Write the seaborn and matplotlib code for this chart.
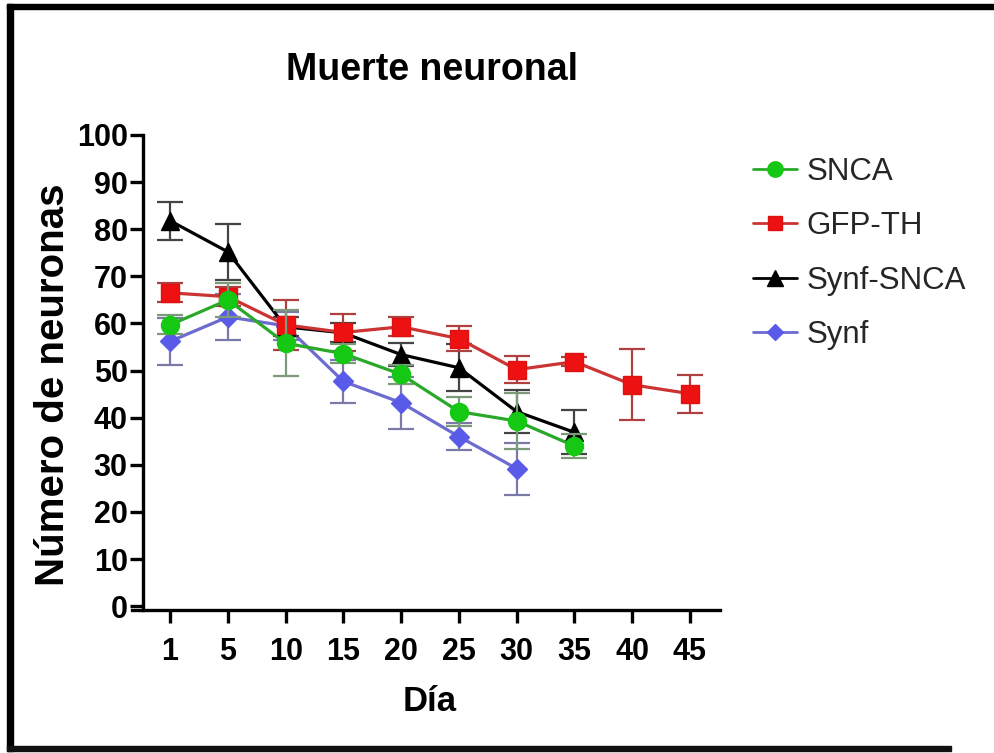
import matplotlib
matplotlib.use("Agg")
import matplotlib.pyplot as plt
import seaborn as sns
import pandas as pd
import numpy as np
from matplotlib.patches import Rectangle

# ---- data ----
days = ["1", "5", "10", "15", "20", "25", "30", "35", "40", "45"]

snca_mean = [59.7, 65.0, 55.8, 53.6, 49.2, 41.3, 39.3, 34.0]
snca_err = [2.0, 3.6, 7.0, 2.0, 2.0, 3.0, 6.0, 2.5]

gfp_mean = [66.5, 65.7, 59.7, 58.1, 59.3, 56.8, 50.2, 51.9, 47.0, 45.1]
gfp_err = [2.0, 2.0, 5.3, 4.0, 2.0, 2.7, 2.8, 1.0, 7.5, 4.0]

synfsnca_mean = [81.8, 75.2, 59.3, 58.0, 53.4, 50.6, 41.3, 36.9]
synfsnca_err = [4.0, 6.0, 2.0, 2.0, 2.5, 5.0, 4.5, 4.7]

synf_mean = [56.2, 61.4, 59.5, 47.7, 43.2, 36.0, 29.2]
synf_err = [5.0, 4.8, 3.0, 4.6, 5.5, 2.8, 5.5]

series_names = ["SNCA", "GFP-TH", "Synf-SNCA", "Synf"]
y_ticks = [0, 10, 20, 30, 40, 50, 60, 70, 80, 90, 100]

series = {
    "SNCA": (snca_mean, snca_err),
    "GFP-TH": (gfp_mean, gfp_err),
    "Synf-SNCA": (synfsnca_mean, synfsnca_err),
    "Synf": (synf_mean, synf_err),
}

styles = {
    "SNCA": dict(marker="o", mfc="#14c814", mec="#14c814", lc="#2aa82a", ec="#7a9a7a", ms=13, z=6),
    "GFP-TH": dict(marker="s", mfc="#ee1111", mec="#dd1111", lc="#cc3333", ec="#b04040", ms=12.5, z=5),
    "Synf-SNCA": dict(marker="^", mfc="#000000", mec="#000000", lc="#000000", ec="#444444", ms=13, z=4),
    "Synf": dict(marker="D", mfc="#5a5ae8", mec="#5a5ae8", lc="#6b6bd0", ec="#7a7aa8", ms=10, z=3),
}

rows = []
for name in series_names:
    m, e = series[name]
    for i, (v, er) in enumerate(zip(m, e)):
        rows.append(dict(serie=name, pos=i, dia=days[i], valor=v, err=er))
df = pd.DataFrame(rows)

sns.set_theme(style="ticks")
regular = ["Liberation Sans", "DejaVu Sans"]
plt.rcParams["font.family"] = regular

fig = plt.figure(figsize=(9.94, 7.53), dpi=100)
W, H = 994, 753
ax = fig.add_axes([132 / W, (H - 610) / H, (720 - 132) / W, (610 - 135) / H])

handles = []
for name in series_names:
    st = styles[name]
    d = df[df.serie == name]
    ax.errorbar(d["pos"], d["valor"], yerr=d["err"], fmt="none", ecolor=st["ec"],
                elinewidth=1.6, capsize=9.5, capthick=1.6, zorder=st["z"] - 0.5)
    sns.lineplot(data=d, x="pos", y="valor", ax=ax, color=st["lc"], linewidth=2.3,
                 marker=st["marker"], markersize=st["ms"], markerfacecolor=st["mfc"],
                 markeredgecolor=st["mec"], markeredgewidth=1.0, zorder=st["z"],
                 legend=False, errorbar=None)
    h, = ax.plot([], [], color=st["lc"], linewidth=2.0, marker=st["marker"],
                 markersize=st["ms"] * 0.85, markerfacecolor=st["mfc"], markeredgecolor=st["mec"])
    handles.append(h)

ax.set_xlim(-0.66, 9.52)
ax.set_ylim(-0.8, 100)
ax.set_xticks(range(len(days)))
ax.set_xticklabels(days)
ax.set_yticks(y_ticks)
ax.set_yticklabels([str(t) for t in y_ticks])
ax.spines["left"].set_position(("data", -0.47))
for s in ["top", "right"]:
    ax.spines[s].set_visible(False)
for s in ["left", "bottom"]:
    ax.spines[s].set_linewidth(2.4)
    ax.spines[s].set_color("black")
ax.tick_params(axis="both", direction="out", length=9.5, width=2.4, color="black")
ax.tick_params(axis="x", pad=10)
ax.tick_params(axis="y", pad=1.5)
for lab in ax.get_xticklabels() + ax.get_yticklabels():
    lab.set_fontweight("bold")
    lab.set_fontsize(22)
    lab.set_color("black")

ax.set_xlabel("Día", fontweight="bold", fontsize=25, color="black")
ax.xaxis.set_label_coords(0.507, -0.158)
ax.set_ylabel("Número de neuronas", fontweight="bold", fontsize=29, color="black")
ax.yaxis.set_label_coords(-0.102, 0.474)

fig.text(432 / W, 1 - 70 / H, "Muerte neuronal", fontweight="bold",
         fontsize=27, ha="center", va="center", color="black")

leg = fig.legend(handles, series_names, loc="upper left",
                 bbox_to_anchor=(753 / W, 1 - 157 / H), frameon=False,
                 prop=dict(size=22.5), handlelength=1.4, borderpad=0, borderaxespad=0,
                 labelspacing=0.78, handletextpad=0.3)

# figure frame
fig.patches.append(Rectangle((7 / W, 2 / H), 6 / W, 1 - 6 / H, transform=fig.transFigure,
                             color="black", zorder=10))
fig.patches.append(Rectangle((7 / W, 1 - 9 / H), 1 - 7 / W, 5 / H, transform=fig.transFigure,
                             color="black", zorder=10))
fig.patches.append(Rectangle((7 / W, 2 / H), 0.95, 5 / H, transform=fig.transFigure,
                             color="#111111", zorder=10))

fig.savefig("out.png", dpi=100)
